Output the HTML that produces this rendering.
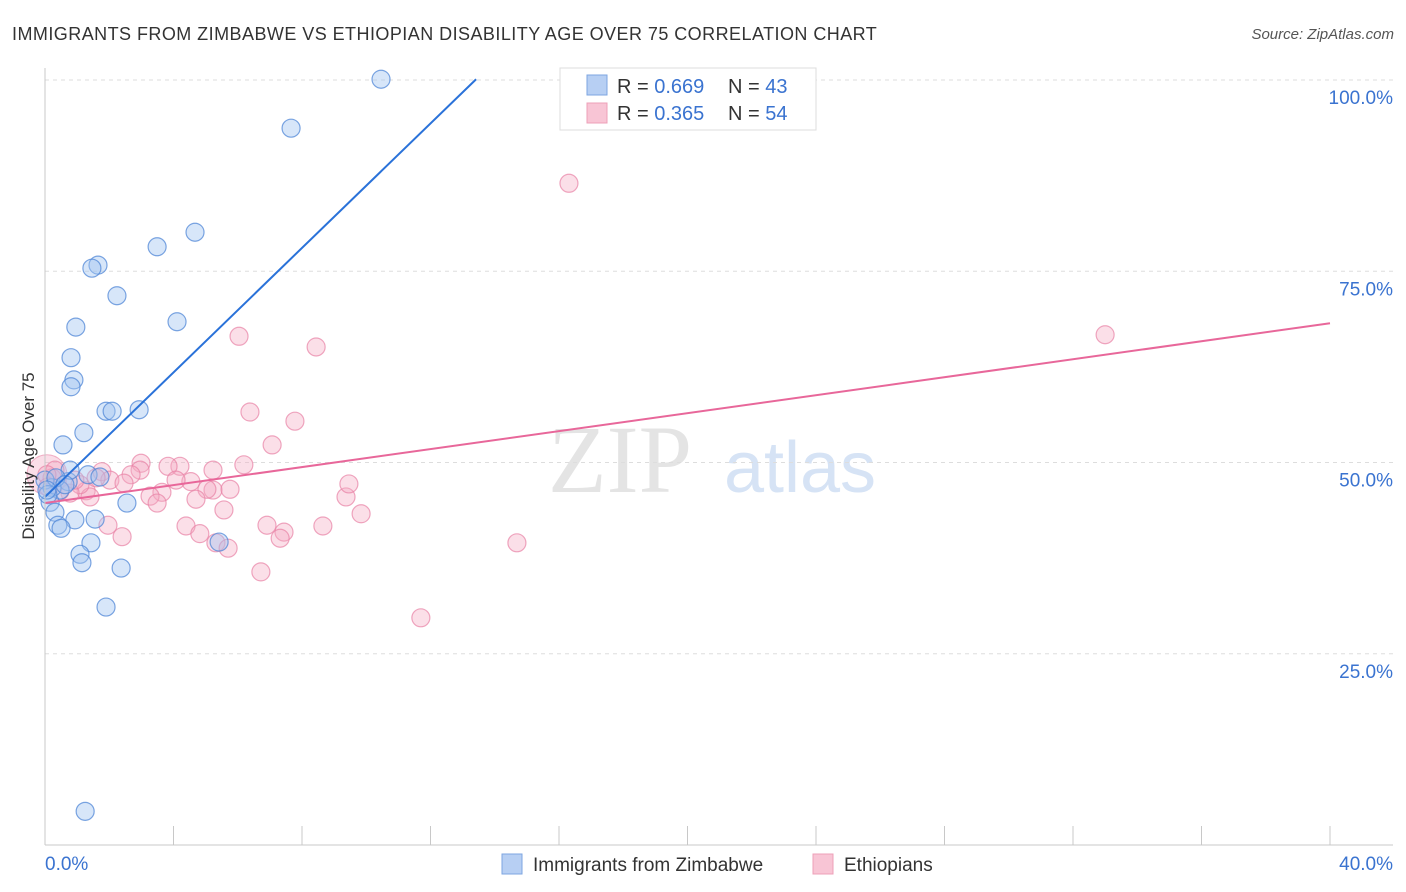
<!DOCTYPE html>
<html><head><meta charset="utf-8"><style>
body{margin:0;background:#fff;font-family:"Liberation Sans",sans-serif;}
svg{display:block}
</style></head><body>
<svg width="1406" height="892">
<text x="12" y="40" font-size="18" fill="#333" letter-spacing="0.45">IMMIGRANTS FROM ZIMBABWE VS ETHIOPIAN DISABILITY AGE OVER 75 CORRELATION CHART</text>
<text x="1394" y="39" font-size="15" fill="#555" font-style="italic" text-anchor="end">Source: ZipAtlas.com</text>
<text x="620" y="492" font-size="96" fill="#e4e4e4" font-family="Liberation Serif,serif" text-anchor="middle">ZIP</text>
<text x="800" y="492" font-size="72" fill="#d6e3f5" text-anchor="middle">atlas</text>
<g id="grid"></g>
<g id="marks"></g>
<g id="axes"></g>
<text x="34" y="456" font-size="17" fill="#333" text-anchor="middle" transform="rotate(-90 34 456)">Disability Age Over 75</text>
<g>
<rect x="560" y="68" width="256" height="62" fill="#fff" stroke="#ddd"/>
<rect x="587" y="75" width="20" height="20" fill="#b7cff3" stroke="#7ea6e0"/>
<text x="617" y="93" font-size="20" fill="#333">R = <tspan fill="#3a73d0">0.669</tspan></text>
<text x="728" y="93" font-size="20" fill="#333">N = <tspan fill="#3a73d0">43</tspan></text>
<rect x="587" y="103" width="20" height="20" fill="#f8c5d5" stroke="#eea0b8"/>
<text x="617" y="120" font-size="20" fill="#333">R = <tspan fill="#3a73d0">0.365</tspan></text>
<text x="728" y="120" font-size="20" fill="#333">N = <tspan fill="#3a73d0">54</tspan></text>
</g>
<g>
<rect x="502" y="854" width="20" height="20" fill="#b7cff3" stroke="#7ea6e0"/>
<text x="533" y="871" font-size="19" fill="#333">Immigrants from Zimbabwe</text>
<rect x="813" y="854" width="20" height="20" fill="#f8c5d5" stroke="#eea0b8"/>
<text x="844" y="871" font-size="19" fill="#333">Ethiopians</text>
</g>
</svg>
<script>
const xTicks=[0,40];
const yTicks=[25,50,75,100];
const blueX=[10.46,7.66,3.49,4.67,1.65,1.46,2.24,4.11,0.96,0.81,0.90,0.81,1.90,2.09,2.93,1.21,0.56,1.34,0.72,0.47,0.22,0.16,0.31,0.93,1.56,0.40,0.50,2.55,1.43,1.09,1.15,2.37,1.90,1.25,5.42,16.53,0.0,0.09,1.71,0.78,0.34,0.62,0.06];
const blueY=[100.1,93.7,78.2,80.1,75.8,75.4,71.8,68.4,67.7,63.7,60.8,59.9,56.7,56.7,56.9,53.9,52.3,48.4,47.5,46.4,46.7,44.8,43.5,42.5,42.6,41.8,41.4,44.7,39.5,38.0,36.9,36.2,31.1,4.4,39.6,100.1,47.7,45.8,48.1,49.0,48.0,47.1,46.4];
const pinkX=[16.31,33.00,6.04,8.44,6.38,7.78,7.07,6.19,5.23,4.20,3.83,2.99,2.96,2.68,1.77,2.02,2.46,4.54,4.08,5.23,5.76,3.64,3.27,3.49,5.04,4.70,5.57,4.39,4.82,6.91,7.44,7.32,8.65,9.37,9.46,9.84,5.32,5.70,6.72,14.69,11.70,2.40,1.96,1.28,1.40,1.09,0.78,0.47,0.22,0.31,0.06,0.09,0.93,1.59];
const pinkY=[86.5,66.7,66.5,65.1,56.6,55.4,52.3,49.7,49.0,49.5,49.5,49.9,49.0,48.4,48.8,47.7,47.3,47.5,47.7,46.4,46.5,46.1,45.6,44.7,46.5,45.2,43.8,41.7,40.7,41.8,40.9,40.1,41.7,45.5,47.2,43.3,39.5,38.8,35.7,39.5,29.7,40.3,41.8,46.3,45.5,47.1,46.0,46.3,48.0,49.0,48.4,46.8,47.7,48.0];
const blueLine=[[0,45.5],[13.42,100.1]];
const pinkLine=[[0,44.7],[40,68.2]];
const NS="http://www.w3.org/2000/svg";
const X0=45,X1=1330,Y0=845,Y100=80;
const sx=v=>X0+(X1-X0)*v/40, sy=v=>Y0-(Y0-Y100)*v/100;
function mk(t,a,p){const e=document.createElementNS(NS,t);for(const k in a)e.setAttribute(k,a[k]);p.appendChild(e);return e;}
const grid=document.getElementById('grid'),marks=document.getElementById('marks'),axes=document.getElementById('axes');
yTicks.forEach(v=>{
 const l=mk('line',{x1:X0,x2:1393,y1:sy(v),y2:sy(v),stroke:'#ddd','stroke-dasharray':'4,4'},grid);
 
 
 const t=mk('text',{x:1393,y:sy(v)+24,'font-size':19,fill:'#3a73d0','text-anchor':'end'},axes);
 t.textContent=v.toFixed(1)+'%';
 
 
});
mk('line',{x1:X0,x2:X0,y1:68,y2:Y0,stroke:'#c8c8c8'},axes);
mk('line',{x1:X0,x2:1393,y1:Y0,y2:Y0,stroke:'#c8c8c8'},axes);
for(let i=0;i<=10;i++){const x=sx(i*4);mk('line',{x1:x,x2:x,y1:826,y2:Y0,stroke:'#c8c8c8'},axes);}
xTicks.forEach((v,i)=>{
 const t=mk('text',{x:i?1393:45,y:870,'font-size':19,fill:'#3a73d0','text-anchor':i?'end':'start'},axes);
 t.textContent=v.toFixed(1)+'%';
 
 
});
const big=mk('circle',{cx:sx(0.06),cy:sy(48.4),r:20,fill:'rgba(240,160,190,0.35)',stroke:'rgba(232,130,165,0.6)'},marks);


pinkX.forEach((v,i)=>{
 const c=mk('circle',{cx:sx(v),cy:sy(pinkY[i]),r:9,fill:'rgba(245,170,195,0.38)',stroke:'rgba(232,130,165,0.7)','stroke-width':1.2},marks);
 
 
});
blueX.forEach((v,i)=>{
 const c=mk('circle',{cx:sx(v),cy:sy(blueY[i]),r:9,fill:'rgba(160,195,240,0.42)',stroke:'rgba(80,135,215,0.75)','stroke-width':1.2},marks);
 
 
});
const bl=mk('line',{x1:sx(blueLine[0][0]),y1:sy(blueLine[0][1]),x2:sx(blueLine[1][0]),y2:sy(blueLine[1][1]),stroke:'#2a72d9','stroke-width':2},marks);


const pl=mk('line',{x1:sx(pinkLine[0][0]),y1:sy(pinkLine[0][1]),x2:sx(pinkLine[1][0]),y2:sy(pinkLine[1][1]),stroke:'#e8679a','stroke-width':2},marks);


</script>
</body></html>
